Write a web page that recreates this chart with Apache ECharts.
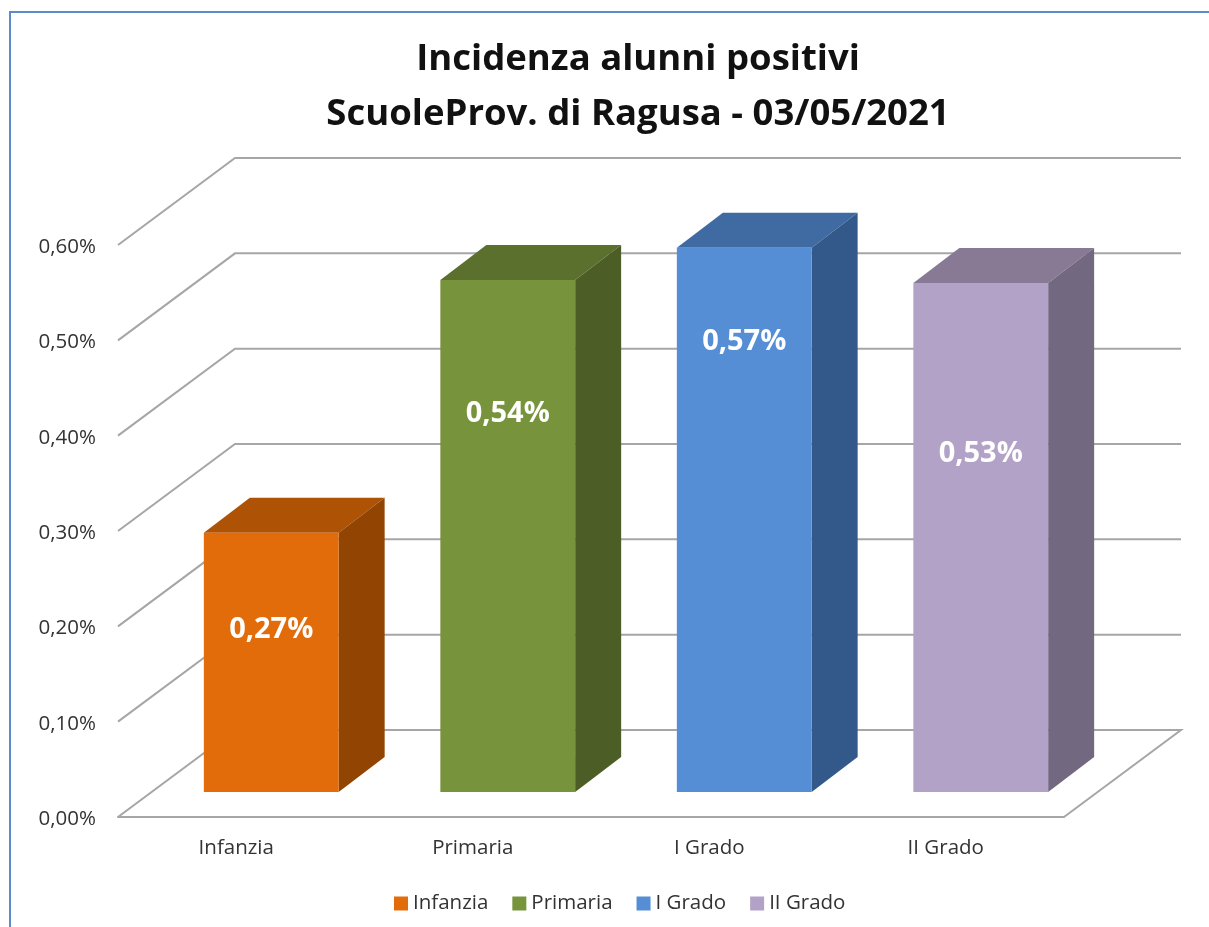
<!DOCTYPE html>
<html>
<head>
<meta charset="utf-8">
<style>
    html, body { margin: 0; padding: 0; background: #fff; }
    #main { width: 1209px; height: 927px; }
</style>
</head>
<body>
<div id="main"></div>
<script src="https://cdn.jsdelivr.net/npm/echarts@6/dist/echarts.min.js"></script>
<script>
const categories = ['Infanzia', 'Primaria', 'I Grado', 'II Grado']
const values = [0.272, 0.537, 0.571, 0.534]
const labelAt = [0.17, 0.397, 0.472, 0.355]
const yTicks = [0, 0.1, 0.2, 0.3, 0.4, 0.5, 0.6]
const frontColors = ['#E36C0A', '#77933C', '#558ED5', '#B3A2C7']
const topColors = ['#AE5205', '#5B702D', '#406BA2', '#887A94']
const sideColors = ['#924403', '#4C5E26', '#33598A', '#726880']

const FONT = '"Open Sans", "Noto Sans", sans-serif'
// 3d look, in pixels
const wallDx = 117, wallDy = 87
const barDx = 35, barDy = 25
const topDx = 46, topDy = 35
const barShare = 0.57

function renderWall(params, api) {
    const cs = params.coordSys
    const y = api.coord([0, api.value(1)])[1]
    const x0 = cs.x
    const x1 = cs.x + cs.width
    const points = [[x0, y], [x0 + wallDx, y - wallDy], [x1 + wallDx, y - wallDy]]
    // the floor also closes on the right side
    if (api.value(1) === 0) points.push([x1, y])
    return {
        type: 'polyline',
        shape: { points: points },
        style: { stroke: '#A6A6A6', lineWidth: 2, fill: null }
    }
}

function renderBar(params, api) {
    const i = api.value(0)
    const w = api.size([1, 0])[0] * barShare
    const base = api.coord([i, 0])
    const top = api.coord([i, api.value(1)])
    const lx = base[0] + barDx - w / 2
    const rx = lx + w
    const by = base[1] - barDy
    const ty = top[1] - barDy
    const textY = api.coord([i, labelAt[i]])[1] - barDy
    return {
        type: 'group',
        children: [
            {
                type: 'polygon',
                shape: { points: [[lx, ty], [rx, ty], [rx + topDx, ty - topDy], [lx + topDx, ty - topDy]] },
                style: { fill: topColors[i] }
            },
            {
                type: 'polygon',
                shape: { points: [[rx, ty], [rx + topDx, ty - topDy], [rx + topDx, by - topDy], [rx, by]] },
                style: { fill: sideColors[i] }
            },
            {
                type: 'rect',
                shape: { x: lx, y: ty, width: w, height: by - ty },
                style: { fill: frontColors[i] }
            },
            {
                type: 'text',
                style: {
                    x: lx + w / 2,
                    y: textY,
                    text: api.value(1).toFixed(2).replace('.', ',') + '%',
                    fill: '#fff',
                    font: 'bold 29px ' + FONT,
                    align: 'center',
                    verticalAlign: 'middle'
                }
            }
        ]
    }
}

const barSeries = categories.map((name, i) => ({
    name: name,
    type: 'custom',
    clip: false,
    z: 3,
    itemStyle: { color: frontColors[i] },
    renderItem: renderBar,
    encode: { x: 0, y: 1 },
    data: [[i, values[i]]]
}))

const myChart = echarts.init(document.getElementById('main'))
myChart.setOption({
    animation: false,
    backgroundColor: '#fff',
    graphic: [{
        type: 'rect',
        silent: true,
        shape: { x: 10, y: 12, width: 1300, height: 1000 },
        style: { fill: null, stroke: '#5B8CC9', lineWidth: 2 }
    }],
    title: {
        text: 'Incidenza alunni positivi\nScuoleProv. di Ragusa - 03/05/2021',
        left: 633,
        top: 27,
        textAlign: 'center',
        textStyle: {
            fontFamily: FONT,
            fontSize: 36.5,
            fontWeight: 'bold',
            color: '#111',
            lineHeight: 55,
            align: 'center'
        }
    },
    legend: {
        data: categories,
        left: 389,
        top: 888,
        icon: 'rect',
        itemWidth: 14,
        itemHeight: 14,
        itemGap: 24,
        textStyle: { fontFamily: FONT, fontSize: 20.5, color: '#333' }
    },
    grid: { left: 118, right: 145, top: 245, bottom: 110 },
    xAxis: {
        type: 'category',
        data: categories,
        axisTick: { show: false },
        axisLine: { lineStyle: { color: '#A6A6A6', width: 2 } },
        axisLabel: { fontFamily: FONT, fontSize: 20.5, color: '#333', margin: 21 }
    },
    yAxis: {
        type: 'value',
        min: 0,
        max: 0.6,
        interval: 0.1,
        axisLine: { show: false },
        axisTick: { show: false },
        splitLine: { show: false },
        axisLabel: {
            margin: 22,
            formatter: v => '{a|' + v.toFixed(2).replace('.', ',') + '%}',
            rich: {
                a: { fontFamily: FONT, fontSize: 20.5, color: '#333', padding: [4, 0, 0, 0] }
            }
        }
    },
    series: [
        {
            name: 'wall',
            type: 'custom',
            clip: false,
            z: 1,
            renderItem: renderWall,
            encode: { x: 0, y: 1 },
            data: yTicks.map(v => [0, v])
        }
    ].concat(barSeries)
})
</script>
</body>
</html>
